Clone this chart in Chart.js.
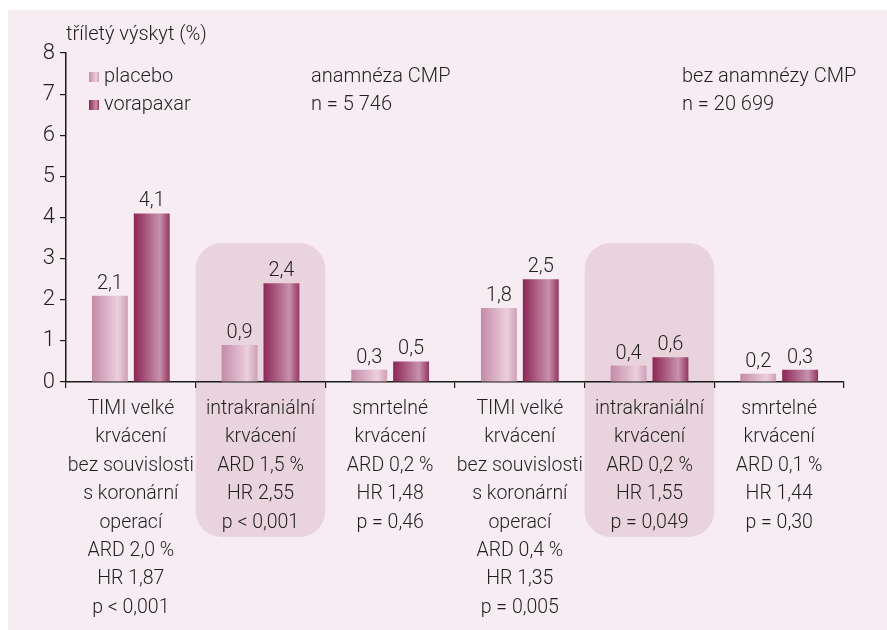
<!DOCTYPE html>
<html>
<head>
<meta charset="utf-8">
<script src="https://cdn.jsdelivr.net/npm/chart.js@4.4.0/dist/chart.umd.min.js"></script>
<style>
  html, body { margin: 0; padding: 0; background: #ffffff; }
  #wrap { width: 887px; height: 630px; position: relative; }
</style>
</head>
<body>
<div id="wrap"><canvas id="graf"></canvas></div>
<script>
// kategorie (víceřádkové popisky osy x)
const kategorie = [
  ["TIMI velké", "krvácení", "bez souvislosti", "s koronární", "operací", "ARD 2,0 %", "HR 1,87", "p < 0,001"],
  ["intrakraniální", "krvácení", "ARD 1,5 %", "HR 2,55", "p < 0,001"],
  ["smrtelné", "krvácení", "ARD 0,2 %", "HR 1,48", "p = 0,46"],
  ["TIMI velké", "krvácení", "bez souvislosti", "s koronární", "operací", "ARD 0,4 %", "HR 1,35", "p = 0,005"],
  ["intrakraniální", "krvácení", "ARD 0,2 %", "HR 1,55", "p = 0,049"],
  ["smrtelné", "krvácení", "ARD 0,1 %", "HR 1,44", "p = 0,30"]
];
const placebo = [2.1, 0.9, 0.3, 1.8, 0.4, 0.2];
const vorapaxar = [4.1, 2.4, 0.5, 2.5, 0.6, 0.3];
const zvyraznene = [1, 4];
const osaYMax = 8;
const popisekOsyY = "tříletý výskyt (%)";
const skupiny = [
  ["anamnéza CMP", "n = 5 746"],
  ["bez anamnézy CMP", "n = 20 699"]
];

const PISMO = "Roboto, 'Liberation Sans', sans-serif";
const TEXT = "#1f1f1f";

function gradientPlacebo(ctx, x0, x1) {
  const g = ctx.createLinearGradient(x0, 0, x1, 0);
  g.addColorStop(0, "#c48ba6");
  g.addColorStop(0.72, "#ebcfdc");
  g.addColorStop(1, "#cf9fb5");
  return g;
}
function gradientVorapaxar(ctx, x0, x1) {
  const g = ctx.createLinearGradient(x0, 0, x1, 0);
  g.addColorStop(0, "#8c2656");
  g.addColorStop(0.72, "#c892ab");
  g.addColorStop(1, "#953560");
  return g;
}

const pozadi = {
  id: "pozadi",
  beforeDraw(chart) {
    const ctx = chart.ctx;
    const x = chart.scales.x, y = chart.scales.y;
    ctx.save();
    ctx.fillStyle = "#f6ecf2";
    ctx.fillRect(8, 10, chart.width - 8, chart.height - 10);
    // zvýrazněné skupiny
    const sirka = (x.right - x.left) / kategorie.length;
    ctx.fillStyle = "#e9d4de";
    zvyraznene.forEach(i => {
      const cx = x.getPixelForValue(i);
      const l = cx - sirka / 2, r = cx + sirka / 2;
      const t = y.getPixelForValue(3.38);
      const b = y.bottom + 155;
      ctx.beginPath();
      ctx.roundRect(l, t, r - l, b - t, 26);
      ctx.fill();
    });
    ctx.restore();
  },
  beforeDatasetsDraw(chart) {
    const ctx = chart.ctx;
    chart.data.datasets.forEach((ds, di) => {
      chart.getDatasetMeta(di).data.forEach(el => {
        const x0 = el.x - el.width / 2, x1 = el.x + el.width / 2;
        el.options.backgroundColor = di === 0 ? gradientPlacebo(ctx, x0, x1) : gradientVorapaxar(ctx, x0, x1);
      });
    });
  },
  afterDatasetsDraw(chart) {
    const ctx = chart.ctx;
    ctx.save();
    ctx.font = "300 20px " + PISMO;
    ctx.fillStyle = TEXT;
    ctx.textAlign = "center";
    ctx.textBaseline = "bottom";
    chart.data.datasets.forEach((ds, di) => {
      chart.getDatasetMeta(di).data.forEach((el, i) => {
        ctx.fillText(ds.data[i].toFixed(1).replace(".", ","), el.x, el.y - 2);
      });
    });
    ctx.restore();
  },
  afterDraw(chart) {
    const ctx = chart.ctx;
    ctx.save();
    ctx.fillStyle = TEXT;
    ctx.font = "300 20px " + PISMO;
    ctx.textBaseline = "middle";
    ctx.textAlign = "left";
    ctx.fillText(popisekOsyY, 66, 35);
    // legenda
    const leg = [["placebo", gradientPlacebo(ctx, 89, 99)], ["vorapaxar", gradientVorapaxar(ctx, 89, 99)]];
    leg.forEach((l, i) => {
      const yy = 77 + i * 28;
      ctx.fillStyle = l[1];
      ctx.fillRect(89, yy - 5, 10, 10);
      ctx.fillStyle = TEXT;
      ctx.fillText(l[0], 104, yy);
    });
    // popisky skupin
    const xs = [311, 682];
    skupiny.forEach((s, i) => {
      ctx.fillText(s[0], xs[i], 77);
      ctx.fillText(s[1], xs[i], 105);
    });
    ctx.restore();
  }
};

new Chart(document.getElementById("graf"), {
  type: "bar",
  data: {
    labels: kategorie,
    datasets: [
      { label: "placebo", data: placebo, backgroundColor: () => "#d9adc1" },
      { label: "vorapaxar", data: vorapaxar, backgroundColor: () => "#a4476f" }
    ]
  },
  plugins: [pozadi],
  options: {
    responsive: true,
    maintainAspectRatio: false,
    animation: false,
    layout: { padding: { top: 53, right: 43, left: 0, bottom: 0 } },
    datasets: { bar: { categoryPercentage: 0.646, barPercentage: 0.857 } },
    plugins: { legend: { display: false }, tooltip: { enabled: false } },
    scales: {
      x: {
        grid: { offset: true, drawOnChartArea: false, tickLength: 6, color: "#1a1a1a", lineWidth: 1.2 },
        border: { color: "#1a1a1a", width: 1.5 },
        ticks: {
          color: TEXT, padding: 7, maxRotation: 0, autoSkip: false,
          font: { family: PISMO, size: 19.5, weight: 300, lineHeight: 1.455 }
        },
        afterFit(s) { s.height = 248; }
      },
      y: {
        min: 0, max: osaYMax,
        grid: { drawOnChartArea: false, tickLength: 6, color: "#1a1a1a", lineWidth: 1.2 },
        border: { color: "#1a1a1a", width: 1.5 },
        ticks: {
          stepSize: 1, color: TEXT, padding: 5,
          font: { family: PISMO, size: 22, weight: 300 }
        },
        afterFit(s) { s.width = 66; }
      }
    }
  }
});
</script>
</body>
</html>
